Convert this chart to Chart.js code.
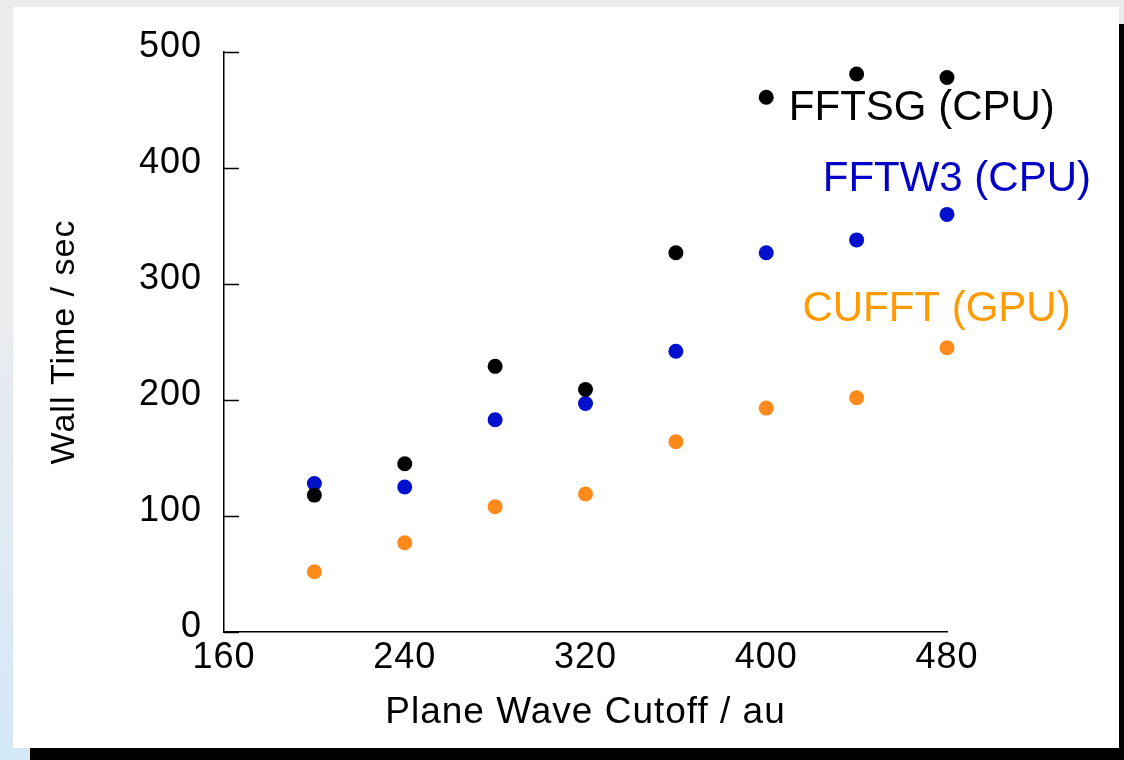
<!DOCTYPE html>
<html>
<head>
<meta charset="utf-8">
<script src="https://cdn.jsdelivr.net/npm/chart.js@4/dist/chart.umd.min.js"></script>
<style>
  html, body { margin: 0; padding: 0; }
  body {
    width: 1124px; height: 760px; overflow: hidden; position: relative;
    background: linear-gradient(to bottom, #ebecee 0%, #ebecee 40%, #d4e9f8 100%);
    font-family: "Liberation Sans", Arial, sans-serif;
  }
  #panel {
    position: absolute; left: 13px; top: 7px; width: 1106px; height: 741px;
    background: #fff; box-shadow: 17px 17px 0 #000;
  }
  #wrap { position: absolute; left: 0; top: 0; width: 1124px; height: 760px; }
</style>
</head>
<body>
<div id="panel"></div>
<div id="wrap"><canvas id="fftChart"></canvas></div>
<script>
// cutoff values (x) and wall times (y)
const cutoffs = [200, 240, 280, 320, 360, 400, 440, 480];
const fftsgCpu = [118, 145, 229, 209, 327, 461, 481, 478];
const fftw3Cpu = [128, 125, 183, 197, 242, 327, 338, 360];
const cufftGpu = [52, 77, 108, 119, 164, 193, 202, 245];

const seriesNames = ['FFTSG (CPU)', 'FFTW3 (CPU)', 'CUFFT (GPU)'];
const xTicks = [160, 240, 320, 400, 480];
const yTicks = [0, 100, 200, 300, 400, 500];

const FONT = '"Liberation Sans", Arial, sans-serif';

function toPoints(vals) {
    return cutoffs.map((c, i) => ({ x: c, y: vals[i] }));
}

// label positions in data units, next to each series
const labelSpots = [
    { x: 410, y: 451, color: '#000000' },
    { x: 425, y: 390, color: '#0000c8' },
    { x: 416, y: 278, color: '#ff9a00' }
];

// slightly spaced lettering like the original figure
const spacing = {
    id: 'spacing',
    beforeDraw(chart) { chart.ctx.letterSpacing = '1px'; },
    afterDraw(chart) { chart.ctx.letterSpacing = '0px'; }
};

// inward ticks on the y axis + in-plot series labels
const annotate = {
    id: 'annotate',
    afterDatasetsDraw(chart) {
        const { ctx, scales: { x, y } } = chart;
        ctx.save();
        ctx.letterSpacing = '0px';
        ctx.strokeStyle = '#000';
        ctx.lineWidth = 1.5;
        yTicks.forEach(v => {
            const py = Math.round(y.getPixelForValue(v)) + 0.5;
            ctx.beginPath();
            ctx.moveTo(x.left, py);
            ctx.lineTo(x.left + 15, py);
            ctx.stroke();
        });
        ctx.font = '42px ' + FONT;
        ctx.textAlign = 'left';
        ctx.textBaseline = 'middle';
        labelSpots.forEach((s, i) => {
            ctx.fillStyle = s.color;
            ctx.fillText(seriesNames[i], x.getPixelForValue(s.x), y.getPixelForValue(s.y));
        });
        ctx.restore();
    }
};

function initChart() {
    const ctx = document.getElementById('fftChart').getContext('2d');
    const dot = (data, color) => ({
        data: toPoints(data),
        backgroundColor: color,
        borderColor: color,
        pointRadius: 7.5,
        pointHoverRadius: 7.5,
        borderWidth: 0,
        clip: false
    });
    window.myChart = new Chart(ctx, {
        type: 'scatter',
        data: {
            datasets: [
                dot(fftsgCpu, '#000000'),
                dot(fftw3Cpu, '#0010cc'),
                dot(cufftGpu, '#ff8a1c')
            ]
        },
        options: {
            responsive: true,
            maintainAspectRatio: false,
            animation: false,
            layout: { padding: { left: 0, top: 52, right: 177, bottom: 0 } },
            plugins: { legend: { display: false }, tooltip: { enabled: false } },
            scales: {
                x: {
                    type: 'linear',
                    min: 160, max: 480,
                    afterBuildTicks: s => { s.ticks = xTicks.map(v => ({ value: v })); },
                    afterFit: s => { s.height = 128; },
                    grid: { display: false, drawTicks: false },
                    border: { display: true, color: '#000', width: 1.5 },
                    ticks: { color: '#000', padding: 4, font: { family: FONT, size: 36 }, maxRotation: 0 },
                    title: {
                        display: true, text: 'Plane Wave Cutoff / au', color: '#000',
                        font: { family: FONT, size: 37 }, padding: { top: 0, bottom: 25 }
                    }
                },
                y: {
                    type: 'linear',
                    min: 0, max: 500,
                    afterBuildTicks: s => { s.ticks = yTicks.map(v => ({ value: v })); },
                    afterFit: s => { s.width = 224; },
                    grid: { display: false, drawTicks: false },
                    border: { display: true, color: '#000', width: 1.5 },
                    ticks: { color: '#000', padding: 22, labelOffset: -5, font: { family: FONT, size: 36 } },
                    title: {
                        display: true, text: 'Wall Time / sec', color: '#000',
                        font: { family: FONT, size: 34 }, padding: { top: 44, bottom: 0 }
                    }
                }
            }
        },
        plugins: [spacing, annotate]
    });
}

window.onload = () => {
    initChart();
};
</script>
</body>
</html>
